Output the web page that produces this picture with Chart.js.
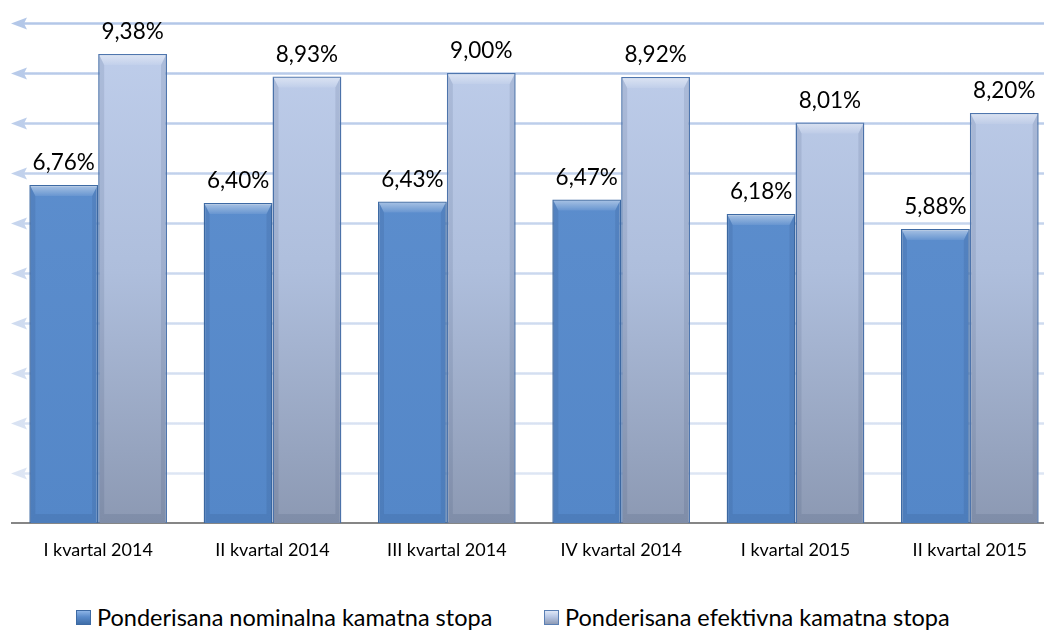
<!DOCTYPE html>
<html>
<head>
<meta charset="utf-8">
<script src="https://cdn.jsdelivr.net/npm/chart.js@4/dist/chart.umd.min.js"></script>
<style>
  html, body { margin: 0; padding: 0; background: #fff; overflow: hidden; }
  #wrap { position: relative; width: 1060px; height: 633px; }
  #chart { position: absolute; left: 0; top: 0; }
  .leg { position: absolute; top: 603px; display: flex; align-items: center;
         font-family: Lato, "Open Sans", sans-serif; font-size: 23.5px; color: #000; white-space: nowrap; }
  .leg i { display: inline-block; width: 15px; height: 15px; margin-right: 6px; box-sizing: border-box; }
  #leg1 { left: 76px; }
  #leg2 { left: 544px; }
  #leg1 i { background: linear-gradient(180deg, #8db4e6 0%, #5a8bcb 45%, #3f6ea8 100%); border: 1px solid #3d6aa4; }
  #leg2 i { background: linear-gradient(180deg, #dfe7f6 0%, #b7c6e4 45%, #8e9bb5 100%); border: 1px solid #5a7fb4; }
</style>
</head>
<body>
<div id="wrap">
  <canvas id="chart" width="1060" height="575"></canvas>
  <div class="leg" id="leg1"><i></i><span></span></div>
  <div class="leg" id="leg2"><i></i><span></span></div>
</div>
<script>
// ========= Data =========
const categories = ["I kvartal 2014", "II kvartal 2014", "III kvartal 2014", "IV kvartal 2014", "I kvartal 2015", "II kvartal 2015"];
const seriesNames = ["Ponderisana nominalna kamatna stopa", "Ponderisana efektivna kamatna stopa"];
const nominalna = [6.76, 6.40, 6.43, 6.47, 6.18, 5.88];
const efektivna = [9.38, 8.93, 9.00, 8.92, 8.01, 8.20];
const yMin = 0;
const yMax = 10;
const yStep = 1;

const FONT = "Lato, 'Open Sans', sans-serif";

/* ========= Helpers ========= */
function fmt(v) {
  return v.toFixed(2).replace(".", ",") + "%";
}

function areaGradient(chart, stops) {
  const area = chart.chartArea;
  if (!area) return stops[0][1];
  const g = chart.ctx.createLinearGradient(0, area.top, 0, area.bottom);
  stops.forEach(([o, c]) => g.addColorStop(o, c));
  return g;
}

/* ========= Plugins ========= */
// light-blue gridlines drawn as arrows pointing left
const arrowGrid = {
  id: "arrowGrid",
  beforeDatasetsDraw(chart) {
    const { ctx, chartArea, scales } = chart;
    const y = scales.y;
    const left = chartArea.left;
    const right = 1044;
    const g = ctx.createLinearGradient(0, chartArea.top, 0, chartArea.bottom);
    g.addColorStop(0, "#b3c7e8");
    g.addColorStop(1, "#e2e9f5");
    ctx.save();
    y.ticks.forEach((t) => {
      if (t.value <= yMin) return;
      const py = Math.round(y.getPixelForValue(t.value)) + 0.5;
      ctx.strokeStyle = g;
      ctx.fillStyle = g;
      ctx.lineWidth = 2.5;
      ctx.beginPath();
      ctx.moveTo(left + 10, py);
      ctx.lineTo(right, py);
      ctx.stroke();
      ctx.beginPath();
      ctx.moveTo(left, py);
      ctx.lineTo(left + 16, py - 6);
      ctx.lineTo(left + 13, py);
      ctx.lineTo(left + 16, py + 6);
      ctx.closePath();
      ctx.fill();
    });
    // category axis line
    const by = Math.round(y.getPixelForValue(yMin));
    ctx.strokeStyle = "#868686";
    ctx.lineWidth = 2;
    ctx.beginPath();
    ctx.moveTo(left, by);
    ctx.lineTo(right, by);
    ctx.stroke();
    ctx.restore();
  }
};

// bevel look on the bars + value labels
const bevelLabels = {
  id: "bevelLabels",
  afterDatasetsDraw(chart) {
    const { ctx } = chart;
    ctx.save();
    chart.data.datasets.forEach((ds, di) => {
      const meta = chart.getDatasetMeta(di);
      meta.data.forEach((el, i) => {
        const { x, y, base, width } = el.getProps(["x", "y", "base", "width"], true);
        const l = x - width / 2 + 1, r = x + width / 2 - 1, t = y + 1, b = base;
        const tb = 10, sb = 5, bb = 9;
        // top bevel
        const tg = ctx.createLinearGradient(0, t, 0, t + tb);
        tg.addColorStop(0, "rgba(255,255,255,0.45)");
        tg.addColorStop(1, "rgba(255,255,255,0.08)");
        ctx.fillStyle = tg;
        ctx.beginPath();
        ctx.moveTo(l, t); ctx.lineTo(r, t); ctx.lineTo(r - sb, t + tb); ctx.lineTo(l + sb, t + tb);
        ctx.closePath(); ctx.fill();
        // sides
        ctx.fillStyle = "rgba(20,40,80,0.10)";
        ctx.beginPath();
        ctx.moveTo(l, t); ctx.lineTo(l + sb, t + tb); ctx.lineTo(l + sb, b - bb); ctx.lineTo(l, b);
        ctx.closePath(); ctx.fill();
        ctx.beginPath();
        ctx.moveTo(r, t); ctx.lineTo(r - sb, t + tb); ctx.lineTo(r - sb, b - bb); ctx.lineTo(r, b);
        ctx.closePath(); ctx.fill();
        // bottom bevel
        ctx.fillStyle = "rgba(20,40,80,0.10)";
        ctx.beginPath();
        ctx.moveTo(l, b); ctx.lineTo(r, b); ctx.lineTo(r - sb, b - bb); ctx.lineTo(l + sb, b - bb);
        ctx.closePath(); ctx.fill();

        // value label
        ctx.fillStyle = "#000";
        ctx.font = "22.5px " + FONT;
        ctx.textAlign = "center";
        ctx.textBaseline = "alphabetic";
        ctx.fillText(fmt(ds.data[i]), x, y - 15);
      });
    });
    ctx.restore();
  }
};

/* ========= Chart ========= */
function kamatneStope() {
  const el = document.getElementById("chart");
  const ctx = el.getContext("2d");

  new Chart(ctx, {
    type: "bar",
    data: {
      labels: categories,
      datasets: [
        {
          label: seriesNames[0],
          data: nominalna,
          backgroundColor: (c) => areaGradient(c.chart, [[0, "#5f90cf"], [1, "#5487c8"]]),
          borderColor: "#3d6aa4",
          borderWidth: 1.5,
          categoryPercentage: 0.79,
          barPercentage: 1
        },
        {
          label: seriesNames[1],
          data: efektivna,
          backgroundColor: (c) => areaGradient(c.chart, [[0, "#c0cfec"], [0.5, "#aebedc"], [1, "#8c99b3"]]),
          borderColor: "#4f76ae",
          borderWidth: 1.5,
          categoryPercentage: 0.79,
          barPercentage: 1
        }
      ]
    },
    options: {
      responsive: false,
      animation: false,
      layout: { padding: { left: 11, right: 3, top: 23, bottom: 0 } },
      plugins: {
        legend: { display: false },
        tooltip: { enabled: false }
      },
      scales: {
        x: {
          grid: { display: false, drawTicks: false },
          border: { display: false },
          ticks: { color: "#000", font: { family: FONT, size: 18 }, padding: 16 },
          afterFit: (scale) => { scale.height = 52; }
        },
        y: {
          display: false,
          min: yMin,
          max: yMax,
          ticks: { stepSize: yStep }
        }
      }
    },
    plugins: [arrowGrid, bevelLabels]
  });
}

/* ========= Init ========= */
document.querySelector("#leg1 span").textContent = seriesNames[0];
document.querySelector("#leg2 span").textContent = seriesNames[1];
kamatneStope();
</script>
</body>
</html>
